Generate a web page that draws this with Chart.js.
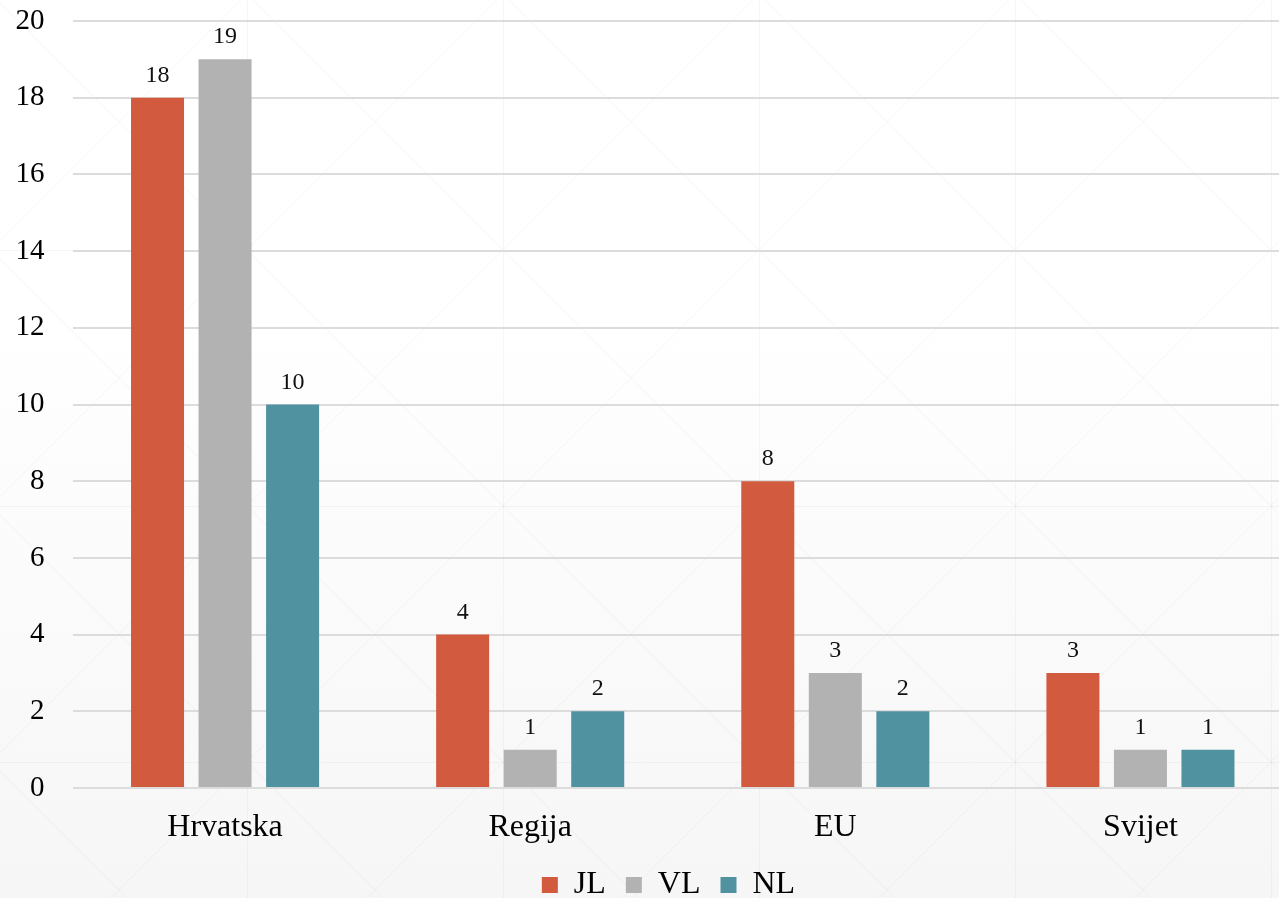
<!DOCTYPE html>
<html>
<head>
<meta charset="utf-8">
<script src="https://cdn.jsdelivr.net/npm/chart.js@4"></script>
<style>
  html, body { margin: 0; padding: 0; overflow: hidden; background: #ffffff; }
  #wrap { position: absolute; left: 0; top: 0; width: 1293px; height: 898px; }
</style>
</head>
<body>
<div id="wrap"><canvas id="c" width="1293" height="898"></canvas></div>
<script>
const categories = ['Hrvatska', 'Regija', 'EU', 'Svijet'];
const seriesNames = ['JL', 'VL', 'NL'];
const jlValues = [18, 4, 8, 3];
const vlValues = [19, 1, 3, 1];
const nlValues = [10, 2, 2, 1];
const yTicks = [0, 2, 4, 6, 8, 10, 12, 14, 16, 18, 20];
const seriesColors = ['#d25a3f', '#b2b2b2', '#5192a1'];

const FONT = "'Liberation Serif', 'Times New Roman', serif";
const LEGEND_HEIGHT = 49;
const LEGEND_SHIFT = 22;

const bgPlugin = {
  id: 'bg',
  beforeDraw(chart) {
    const ctx = chart.ctx;
    const w = chart.width, h = chart.height;
    ctx.save();
    const g = ctx.createLinearGradient(0, 0, 0, h);
    g.addColorStop(0, '#ffffff');
    g.addColorStop(0.35, '#ffffff');
    g.addColorStop(1, '#f6f6f6');
    ctx.fillStyle = g;
    ctx.fillRect(0, 0, w, h);
    ctx.strokeStyle = 'rgba(0,0,0,0.035)';
    ctx.lineWidth = 1;
    const ox = 247, oy = 250, s = 256;
    ctx.beginPath();
    for (let x = ox - s * 2; x < w + s; x += s) { ctx.moveTo(x + 0.5, 0); ctx.lineTo(x + 0.5, h); }
    for (let y = oy - s * 2; y < h + s; y += s) { ctx.moveTo(0, y + 0.5); ctx.lineTo(w, y + 0.5); }
    for (let c = (ox - oy) - s * 8; c < w + s * 4; c += s) { ctx.moveTo(c, 0); ctx.lineTo(c + h, h); }
    for (let c = (ox + oy) - s * 8; c < w + h + s * 4; c += s) { ctx.moveTo(c, 0); ctx.lineTo(c - h, h); }
    ctx.stroke();
    ctx.restore();
  }
};

const legendTweak = {
  id: 'legendTweak',
  beforeLayout(chart) {
    const lg = chart.legend;
    if (lg && !lg._patched) {
      const orig = lg.fit.bind(lg);
      lg.fit = function () { orig(); this.height = LEGEND_HEIGHT; };
      lg._patched = true;
    }
  },
  afterLayout(chart) {
    const lg = chart.legend;
    if (lg) { lg.left += LEGEND_SHIFT; lg.right += LEGEND_SHIFT; }
  }
};

const valueLabels = {
  id: 'valueLabels',
  afterDatasetsDraw(chart) {
    const ctx = chart.ctx;
    ctx.save();
    ctx.font = '24px ' + FONT;
    ctx.fillStyle = '#111111';
    ctx.textAlign = 'center';
    ctx.textBaseline = 'alphabetic';
    chart.data.datasets.forEach((ds, i) => {
      const meta = chart.getDatasetMeta(i);
      meta.data.forEach((bar, j) => {
        ctx.fillText(String(ds.data[j]), bar.x, bar.y - 16);
      });
    });
    ctx.restore();
  }
};

new Chart(document.getElementById('c'), {
  type: 'bar',
  data: {
    labels: categories,
    datasets: [
      { label: seriesNames[0], data: jlValues, backgroundColor: seriesColors[0] },
      { label: seriesNames[1], data: vlValues, backgroundColor: seriesColors[1] },
      { label: seriesNames[2], data: nlValues, backgroundColor: seriesColors[2] }
    ]
  },
  options: {
    responsive: false,
    animation: false,
    layout: { padding: { left: 0, right: 0, top: 21, bottom: 0 } },
    datasets: { bar: { categoryPercentage: 0.664, barPercentage: 0.785 } },
    plugins: {
      legend: {
        position: 'bottom',
        labels: {
          boxWidth: 16,
          boxHeight: 16,
          padding: 20,
          color: '#000',
          font: { family: FONT, size: 32 }
        }
      },
      tooltip: { enabled: false }
    },
    scales: {
      x: {
        afterFit(scale) { scale.height = 898 - LEGEND_HEIGHT - 788; scale.paddingLeft = 0; scale.paddingRight = 0; },
        grid: { display: false, drawTicks: false },
        border: { display: false },
        ticks: { color: '#000', padding: 20, font: { family: FONT, size: 32 } }
      },
      y: {
        min: 0,
        max: 20,
        afterFit(scale) { scale.width = 72.5; scale.paddingTop = 0; scale.paddingBottom = 0; },
        afterBuildTicks(scale) { scale.ticks = yTicks.map(v => ({ value: v })); },
        grid: { color: '#dcdcdc', lineWidth: 2, drawTicks: false },
        border: { display: false },
        ticks: { color: '#000', padding: 28, font: { family: FONT, size: 29 } }
      }
    }
  },
  plugins: [bgPlugin, legendTweak, valueLabels]
});
</script>
</body>
</html>
